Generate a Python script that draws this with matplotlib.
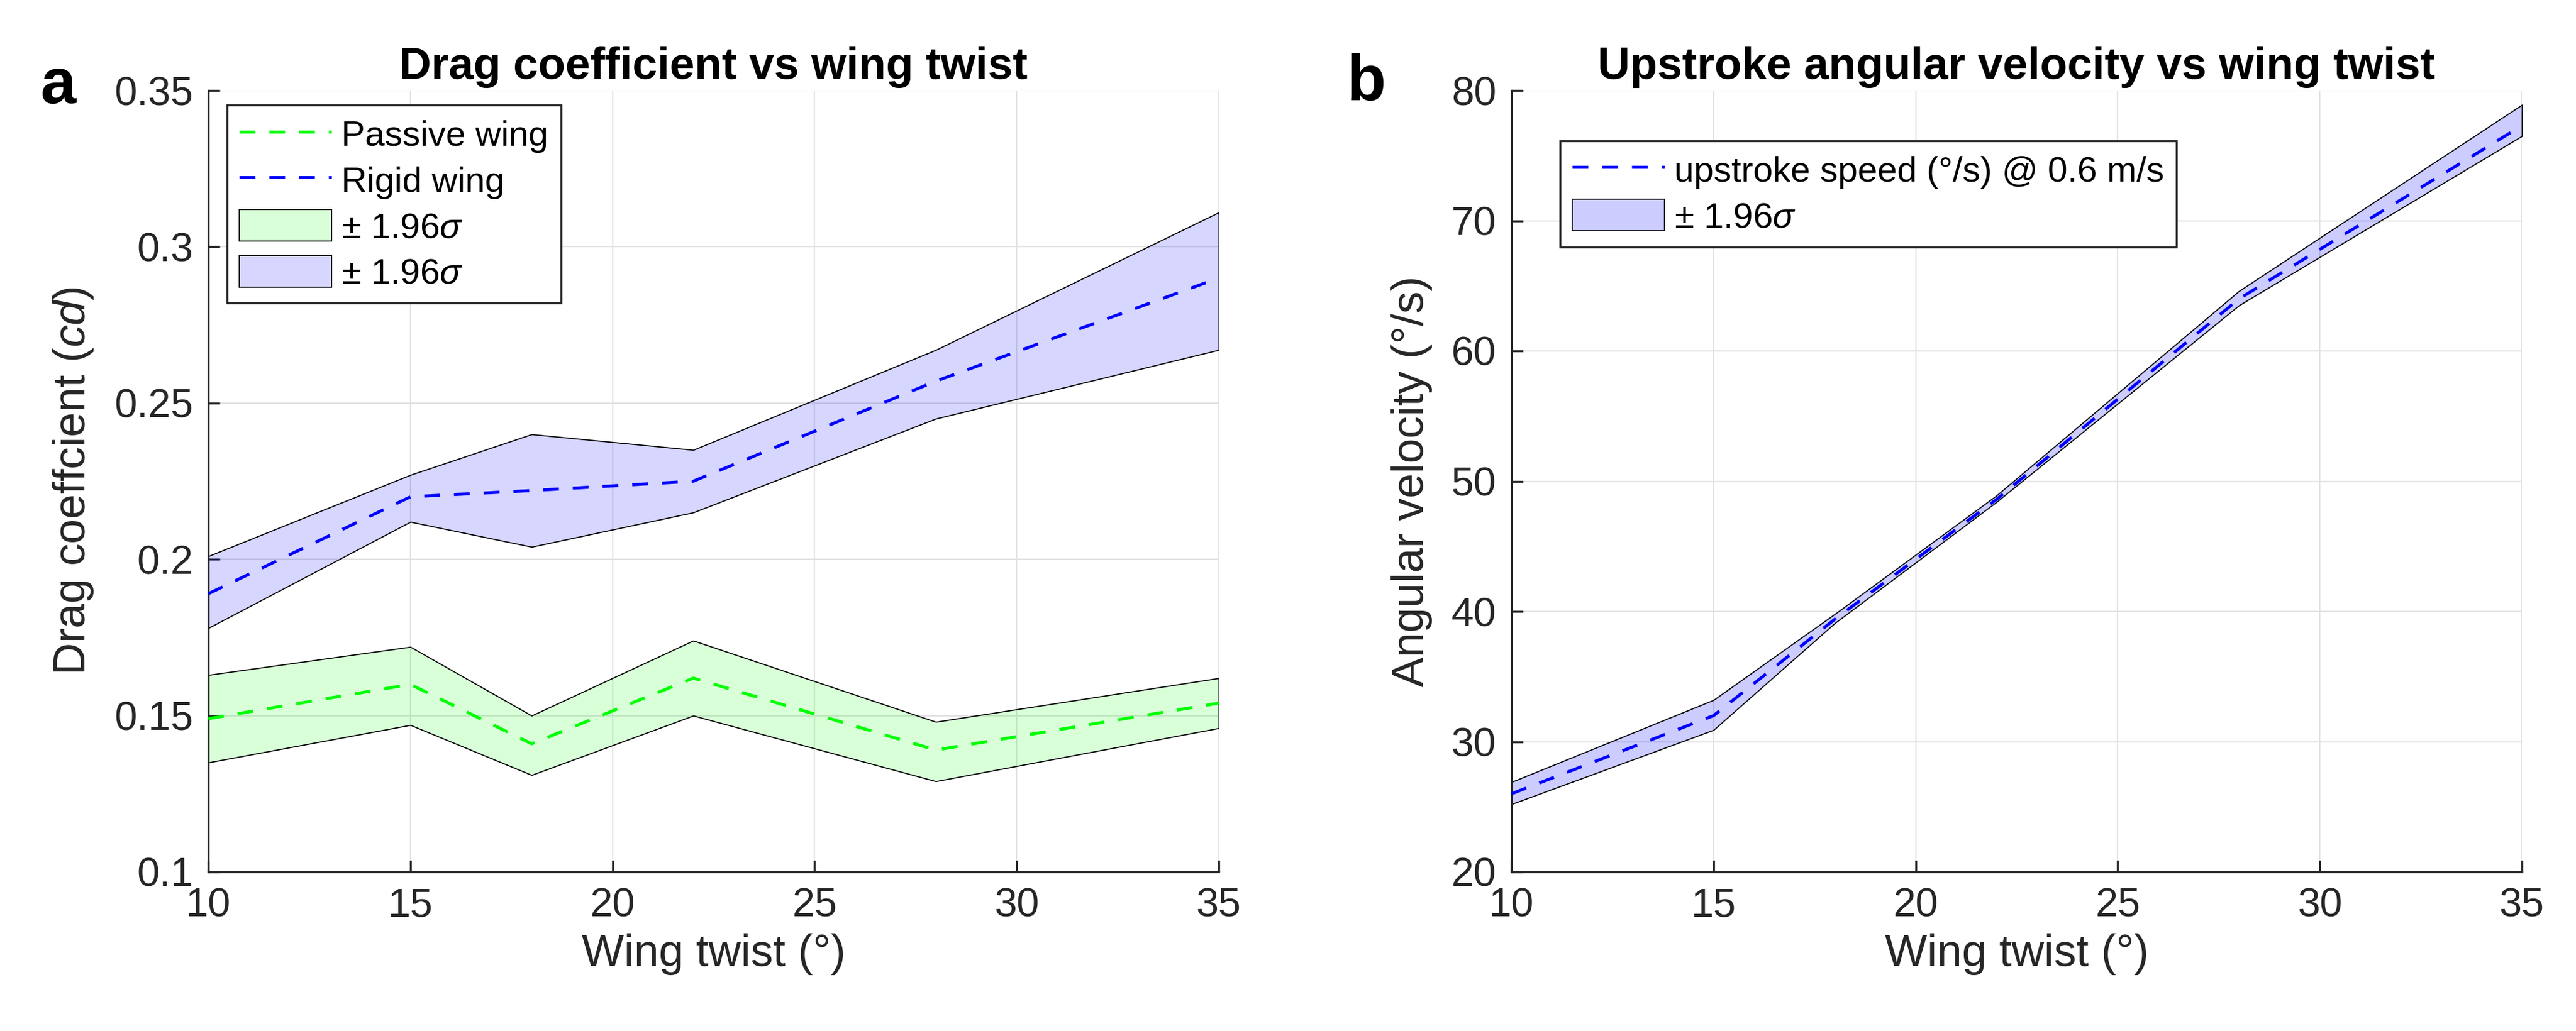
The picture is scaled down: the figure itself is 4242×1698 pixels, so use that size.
import matplotlib
matplotlib.use("Agg")
import matplotlib.pyplot as plt
from matplotlib.ticker import FuncFormatter

plt.rcParams['font.family'] = ['Liberation Sans', 'DejaVu Sans']
plt.rcParams['mathtext.fontset'] = 'custom'
plt.rcParams['mathtext.rm'] = 'Liberation Sans'
plt.rcParams['mathtext.it'] = 'Liberation Sans:italic'
plt.rcParams['mathtext.bf'] = 'Liberation Sans:bold'

# ---------------- data ----------------
twist = [10, 15, 18, 22, 28, 35]

passive_mean = [0.149, 0.160, 0.141, 0.162, 0.139, 0.154]
passive_upper = [0.163, 0.172, 0.150, 0.174, 0.148, 0.162]
passive_lower = [0.135, 0.147, 0.131, 0.150, 0.129, 0.146]

rigid_mean = [0.189, 0.220, 0.222, 0.225, 0.257, 0.290]
rigid_upper = [0.201, 0.227, 0.240, 0.235, 0.267, 0.311]
rigid_lower = [0.178, 0.212, 0.204, 0.215, 0.245, 0.267]

speed_mean = [26.0, 32.0, 39.4, 48.6, 64.0, 77.3]
speed_upper = [26.9, 33.2, 39.8, 48.9, 64.6, 78.9]
speed_lower = [25.2, 30.9, 39.1, 48.4, 63.5, 76.5]

xticks = [10, 15, 20, 25, 30, 35]
yticks_a = [0.1, 0.15, 0.2, 0.25, 0.3, 0.35]
yticks_b = [20, 30, 40, 50, 60, 70, 80]

# ---------------- style ----------------
AX_COL = '#262626'
GRID_COL = '#e2e2e2'
TICK_FS = 48
LABEL_FS = 53
TITLE_FS = 53
LEG_FS = 42
DASH = (0, (5.2, 4.6))

fig = plt.figure(figsize=(42.42, 16.98), dpi=100)
W, H = 4242, 1698
axa = fig.add_axes([343 / W, (H - 1436) / H, 1664 / W, 1287 / H])
axb = fig.add_axes([2489 / W, (H - 1436) / H, 1664 / W, 1287 / H])


def style_axes(ax):
    for s in ['top', 'right']:
        ax.spines[s].set_visible(False)
    for s in ['left', 'bottom']:
        ax.spines[s].set_color(AX_COL)
        ax.spines[s].set_linewidth(2.4)
    ax.tick_params(direction='in', length=14, width=2.4, color=AX_COL,
                   labelcolor=AX_COL, labelsize=TICK_FS, pad=18)
    ax.grid(True, color=GRID_COL, linewidth=1.6)
    ax.set_axisbelow(True)


# ---------------- panel a ----------------
style_axes(axa)
fg = axa.fill_between(twist, passive_lower, passive_upper, facecolor=(0, 1, 0, 0.15),
                      edgecolor='black', linewidth=1.3, label='± 1.96$\\sigma$', zorder=2)
fb = axa.fill_between(twist, rigid_lower, rigid_upper, facecolor=(0, 0, 1, 0.16),
                      edgecolor='black', linewidth=1.3, label='± 1.96$\\sigma$', zorder=2)
lg, = axa.plot(twist, passive_mean, color='#00ff00', linestyle=DASH, linewidth=3.6,
               label='Passive wing', zorder=3)
lb, = axa.plot(twist, rigid_mean, color='#0000ff', linestyle=DASH, linewidth=3.6,
               label='Rigid wing', zorder=3)
axa.set_xlim(10, 35)
axa.set_ylim(0.1, 0.35)
axa.set_xticks(xticks)
axa.set_yticks(yticks_a)
axa.yaxis.set_major_formatter(FuncFormatter(lambda v, p: '%g' % v))
axa.set_xlabel('Wing twist (°)', fontsize=LABEL_FS, color=AX_COL, labelpad=10)
axa.set_ylabel('Drag coeffcient ($\\it{cd}$)', fontsize=LABEL_FS, color=AX_COL, labelpad=22)
axa.set_title('Drag coefficient vs wing twist', fontsize=TITLE_FS, fontweight='bold', pad=14)
lega = axa.legend(handles=[lg, lb, fg, fb], loc='upper left',
                  bbox_to_anchor=(0.0186, 0.981), borderaxespad=0, fontsize=LEG_FS,
                  frameon=True, fancybox=False, framealpha=1, edgecolor=AX_COL,
                  handlelength=2.6, handleheight=1.0, handletextpad=0.28,
                  labelspacing=0.3, borderpad=0.35)
lega.get_frame().set_linewidth(2.4)

# ---------------- panel b ----------------
style_axes(axb)
fs = axb.fill_between(twist, speed_lower, speed_upper, facecolor=(0, 0, 1, 0.2),
                      edgecolor='black', linewidth=1.3, label='± 1.96$\\sigma$', zorder=2)
ls, = axb.plot(twist, speed_mean, color='#0000ff', linestyle=DASH, linewidth=3.6,
               label='upstroke speed (°/s) @ 0.6 m/s', zorder=3)
axb.set_xlim(10, 35)
axb.set_ylim(20, 80)
axb.set_xticks(xticks)
axb.set_yticks(yticks_b)
axb.set_xlabel('Wing twist (°)', fontsize=LABEL_FS, color=AX_COL, labelpad=10)
axb.set_ylabel('Angular velocity (°/s)', fontsize=LABEL_FS, color=AX_COL, labelpad=22)
axb.set_title('Upstroke angular velocity vs wing twist', fontsize=TITLE_FS,
              fontweight='bold', pad=14)
legb = axb.legend(handles=[ls, fs], loc='upper left',
                  bbox_to_anchor=(0.048, 0.9355), borderaxespad=0, fontsize=LEG_FS,
                  frameon=True, fancybox=False, framealpha=1, edgecolor=AX_COL,
                  handlelength=2.6, handleheight=1.0, handletextpad=0.28,
                  labelspacing=0.3, borderpad=0.35)
legb.get_frame().set_linewidth(2.4)

# panel letters
fig.text(67 / W, 1 - 170 / H, 'a', fontsize=76, fontweight='bold', va='baseline', ha='left')
fig.text(2217 / W, 1 - 165 / H, 'b', fontsize=76, fontweight='bold', va='baseline', ha='left')

fig.savefig('out.png', dpi=100, facecolor='white')
